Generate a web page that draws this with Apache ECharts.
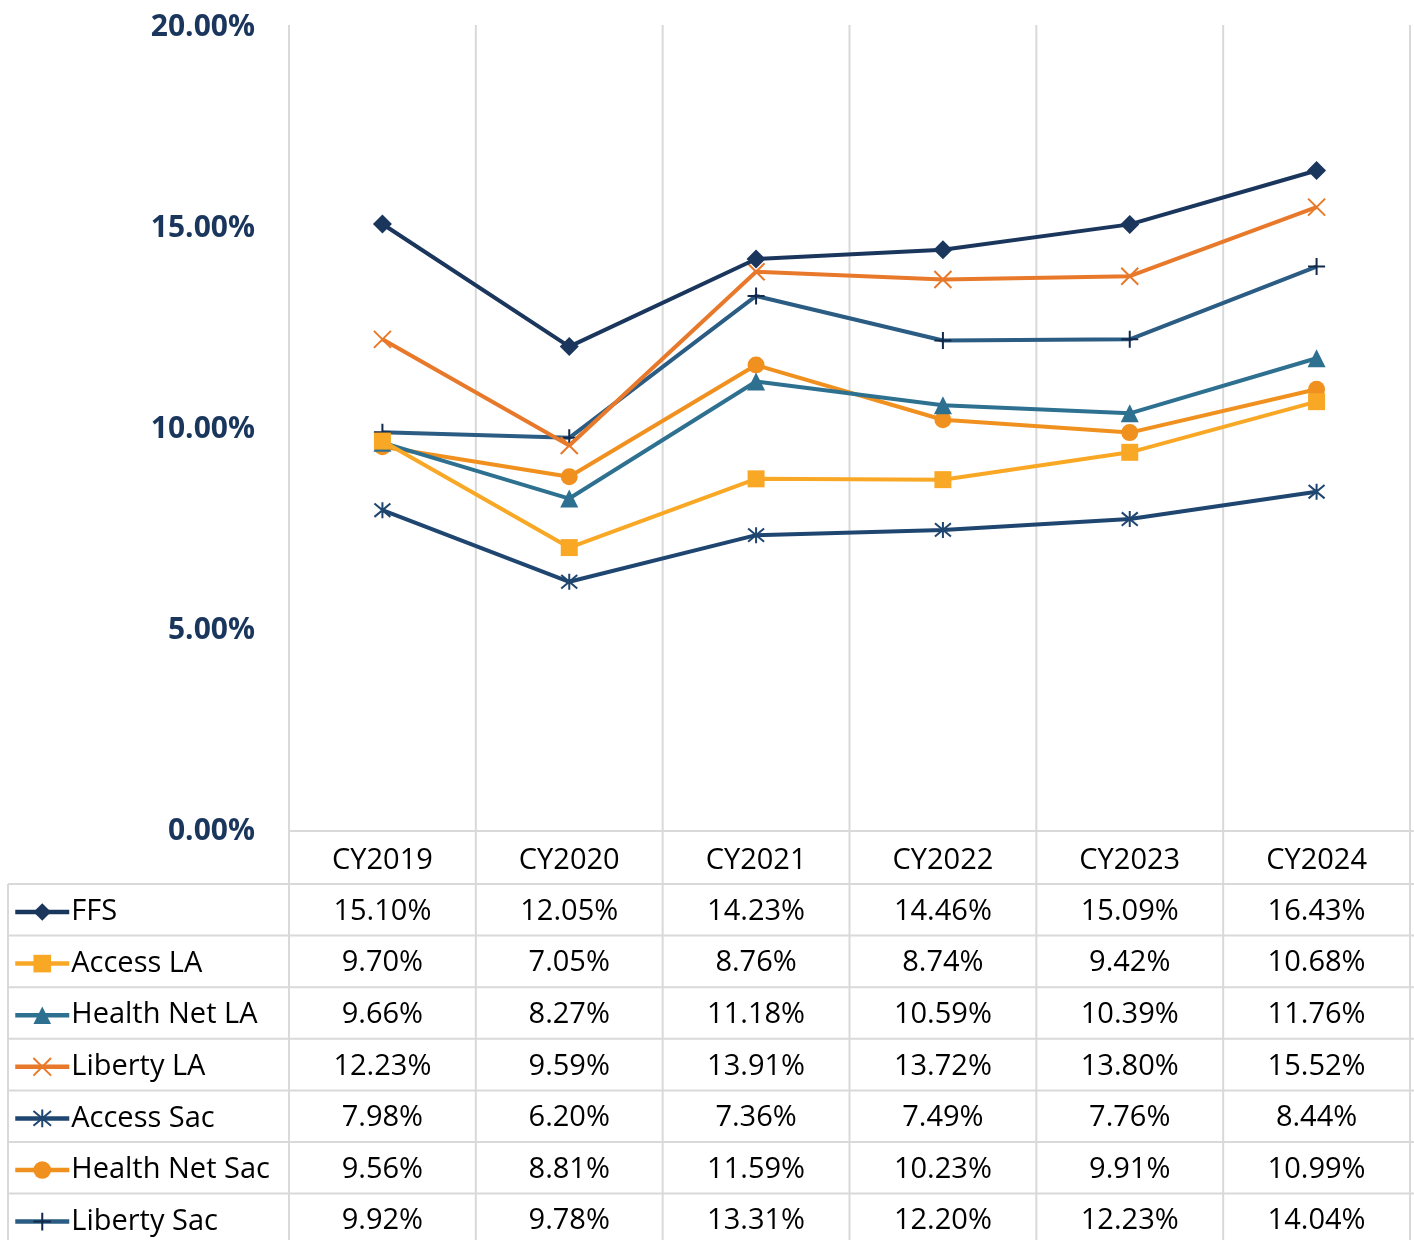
<!DOCTYPE html>
<html>
<head>
<meta charset="utf-8">
<script src="https://cdn.jsdelivr.net/npm/echarts@6/dist/echarts.min.js"></script>
<style>
html,body{margin:0;padding:0;background:#fff;}
#chart{width:1414px;height:1240px;}
</style>
</head>
<body>
<div id="chart"></div>
<script>
const categories = ['CY2019','CY2020','CY2021','CY2022','CY2023','CY2024'];
const seriesNames = ['FFS','Access LA','Health Net LA','Liberty LA','Access Sac','Health Net Sac','Liberty Sac'];
const ffs          = [15.10, 12.05, 14.23, 14.46, 15.09, 16.43];
const accessLA     = [9.70, 7.05, 8.76, 8.74, 9.42, 10.68];
const healthNetLA  = [9.66, 8.27, 11.18, 10.59, 10.39, 11.76];
const libertyLA    = [12.23, 9.59, 13.91, 13.72, 13.80, 15.52];
const accessSac    = [7.98, 6.20, 7.36, 7.49, 7.76, 8.44];
const healthNetSac = [9.56, 8.81, 11.59, 10.23, 9.91, 10.99];
const libertySac   = [9.92, 9.78, 13.31, 12.20, 12.23, 14.04];
const yTicks = [0, 5, 10, 15, 20];

const allData = [ffs, accessLA, healthNetLA, libertyLA, accessSac, healthNetSac, libertySac];
const lineColors = ['#1B365D','#F9A825','#2E7090','#E8792B','#1F4670','#F0901E','#2B5C83'];
const markColors = ['#1B365D','#F9A825','#2E7090','#E8792B','#1F4670','#F0901E','#13294B'];
const xPath = 'path://M0,0L10,10M10,0L0,10';
const starPath = 'path://M0,0L10,10M10,0L0,10M5,-1L5,11';
const plusPath = 'path://M5,0L5,10M0,5L10,5';
const symbols = ['diamond','rect','triangle',xPath,starPath,'circle',plusPath];
const symSizes = [19,17,18,17,16,17,17];
const stroked = [false,false,false,true,true,false,true];

const FONT = 'Open Sans';
const W = 1414, H = 1240;
const gridLeft = 289, gridRight = 4, gridTop = 27, gridBottomY = 831;
const rowH = 51.6;
const firstRowLine = 884;

const chart = echarts.init(document.getElementById('chart'), null, {renderer:'canvas'});

const series = seriesNames.map((name, i) => ({
  name: name,
  type: 'line',
  data: allData[i],
  symbol: symbols[i],
  symbolSize: symSizes[i],
  showSymbol: true,
  lineStyle: {color: lineColors[i], width: 4},
  itemStyle: stroked[i]
    ? {color: markColors[i], borderColor: markColors[i], borderWidth: 2}
    : {color: markColors[i], borderWidth: 0},
  emphasis: {disabled: true},
  z: 10 - i
}));

const xAxes = [{
  type: 'category', gridIndex: 0, position: 'bottom', data: categories,
  boundaryGap: true, axisLine: {show: false}, axisTick: {show: false},
  splitLine: {show: false},
  axisLabel: {fontFamily: FONT, fontSize: 29, color: '#000', margin: 14.5, lineHeight: 30}
}];
allData.forEach((arr, i) => {
  xAxes.push({
    type: 'category', gridIndex: 0, position: 'bottom', offset: rowH * (i + 1),
    data: arr.map(v => v.toFixed(2) + '%'),
    boundaryGap: true, axisLine: {show: false}, axisTick: {show: false},
    splitLine: {show: false},
    axisLabel: {fontFamily: FONT, fontSize: 29, color: '#000', margin: 14, lineHeight: 30}
  });
});

// table borders
const graphics = [];
const lineStyleG = {stroke: '#D9D9D9', lineWidth: 2};
const plotW = W - gridLeft - gridRight;
for (let k = 0; k <= categories.length; k++) {
  const x = gridLeft + plotW * k / categories.length;
  graphics.push({type: 'line', shape: {x1: x, y1: 25, x2: x, y2: H}, style: lineStyleG, z: -1, silent: true});
}
graphics.push({type: 'line', shape: {x1: 8, y1: firstRowLine, x2: 8, y2: H}, style: lineStyleG, z: -1, silent: true});
graphics.push({type: 'line', shape: {x1: gridLeft, y1: gridBottomY, x2: W, y2: gridBottomY}, style: lineStyleG, z: -1, silent: true});
for (let r = 0; r < seriesNames.length; r++) {
  const y = firstRowLine + rowH * r;
  graphics.push({type: 'line', shape: {x1: 8, y1: y, x2: W, y2: y}, style: lineStyleG, z: -1, silent: true});
}

chart.setOption({
  backgroundColor: '#fff',
  animation: false,
  textStyle: {fontFamily: FONT},
  grid: {left: gridLeft, right: gridRight, top: gridTop, bottom: H - gridBottomY, containLabel: false},
  legend: {
    orient: 'vertical', left: 13, top: 897, padding: 0, height: 340,
    itemWidth: 54, itemHeight: 22, itemGap: rowH - 30,
    data: seriesNames,
    lineStyle: {width: 4.5},
    textStyle: {fontFamily: FONT, fontSize: 29, color: '#000', lineHeight: 30, padding: [0, 0, 0, -3]},
    selectedMode: false
  },
  xAxis: xAxes,
  yAxis: {
    type: 'value', min: yTicks[0], max: yTicks[yTicks.length - 1], interval: 5,
    axisLine: {show: false}, axisTick: {show: false}, splitLine: {show: false},
    axisLabel: {fontFamily: FONT, fontWeight: 'bold', fontSize: 30, color: '#1B365D', margin: 34,
      formatter: v => v.toFixed(2) + '%'}
  },
  graphic: graphics,
  series: series
});
</script>
</body>
</html>
